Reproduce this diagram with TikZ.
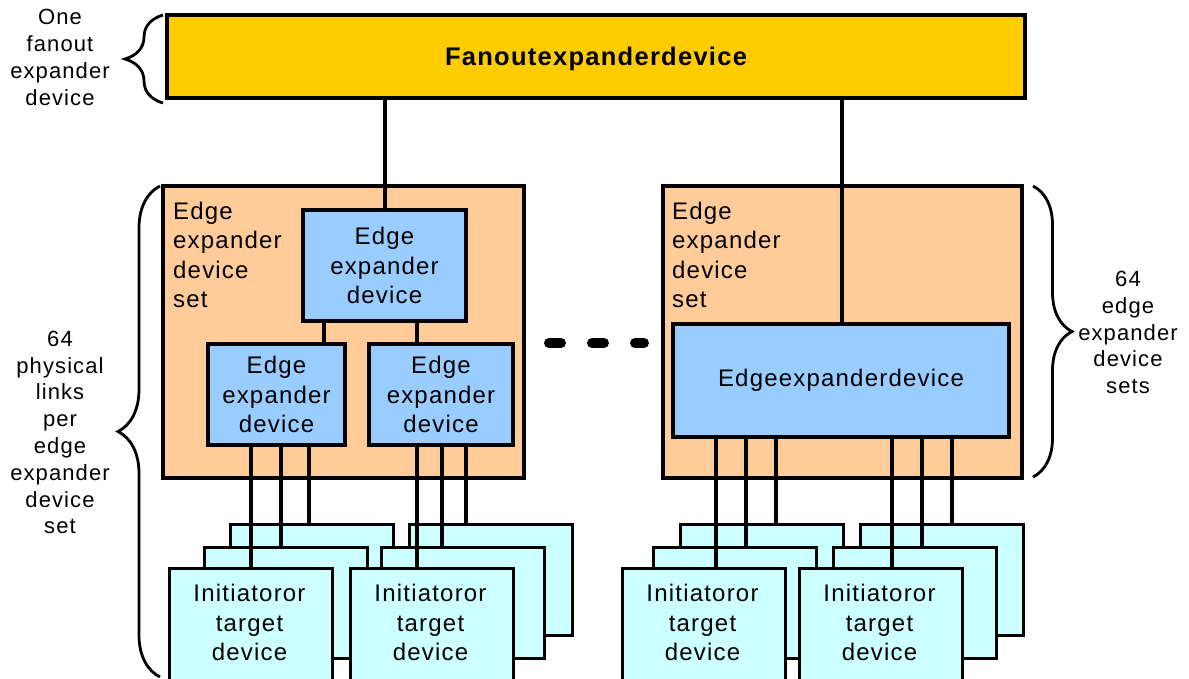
\documentclass[tikz,border=0pt]{standalone}
\usepackage{fontspec}
\setmainfont{Liberation Sans}
\newfontfamily\boxfont{Liberation Sans}[LetterSpace=5]
\newfontfamily\titlefont{Liberation Sans}[LetterSpace=5]
\usetikzlibrary{decorations.pathreplacing}

\definecolor{fanfill}{HTML}{FFCC00}
\definecolor{setfill}{HTML}{FFCC99}
\definecolor{devfill}{HTML}{99CCFF}
\definecolor{initfill}{HTML}{CCFFFF}

\tikzset{
  outline/.style={draw=black, line width=3.2pt, rectangle, inner sep=0pt},
  fanbox/.style={outline, fill=fanfill},
  fanlbl/.style={inner sep=0pt, font=\titlefont\bfseries\fontsize{25.5}{30}\selectfont},
  setbox/.style={outline, fill=setfill},
  devbox/.style={outline, fill=devfill, align=center, font=\boxfont\fontsize{24}{29.5}\selectfont},
  initbox/.style={outline, fill=initfill, minimum width=163pt, minimum height=111pt},
  setlbl/.style={inner sep=0pt, align=left, font=\boxfont\fontsize{24}{29.3}\selectfont},
  initlbl/.style={inner sep=0pt, align=center, font=\boxfont\fontsize{24}{29.5}\selectfont},
  sidelbl/.style={inner sep=0pt, align=center, font=\boxfont\fontsize{22}{26.8}\selectfont},
  link/.style={draw=black, line width=3.2pt},
  ellipsisdash/.style={line width=10pt, line cap=round},
  bracemark/.style={line width=2.8pt, decorate, decoration={brace, amplitude=#1}}
}

\begin{document}
\begin{tikzpicture}[x=1pt, y=-1pt]
\useasboundingbox (0,0) rectangle (1189,678);
\fill[white] (0,0) rectangle (1189,678);

% top level fanout expander
\node[fanbox, minimum width=858pt, minimum height=83pt] (fan) at (596,56.5) {};
\node[fanlbl, anchor=base] (fant) at (596,65) {Fanoutexpanderdevice};

% the two edge expander device sets
\node[setbox, minimum width=361pt, minimum height=292pt] (setL) at (343.5,332) {};
\node[setbox, minimum width=359pt, minimum height=292pt] (setR) at (842.5,332) {};
\node[setlbl, anchor=north west] (setLt) at (173,202) {Edge\\expander\\device\\set};
\node[setlbl, anchor=north west] (setRt) at (672,202) {Edge\\expander\\device\\set};

% edge expander devices
\node[devbox, minimum width=163pt, minimum height=111pt] (et) at (384.5,265.5) {Edge\\expander\\device};
\node[devbox, minimum width=137pt, minimum height=101pt] (dl1) at (276.5,394.5) {Edge\\expander\\device};
\node[devbox, minimum width=144pt, minimum height=101pt] (dl2) at (441,394.5) {Edge\\expander\\device};
\node[devbox, minimum width=336pt, minimum height=113pt] (er) at (841,380.5) {Edgeexpanderdevice};

% stacks of initiator or target devices (back, middle, front)
\foreach \n/\fx/\mx/\bx in {1/168/203/229, 2/349/380/408, 3/621/652/679, 4/798/832/859} {
  \node[initbox, anchor=north west] (b\n) at (\bx,523) {};
  \node[initbox, anchor=north west] (m\n) at (\mx,546) {};
  \node[initbox, anchor=north west, minimum height=130pt] (f\n) at (\fx,567) {};
  \node[initlbl] (t\n) at (\fx+81.5,622.5) {Initiatoror\\target\\device};
}

% links from the fanout expander down to the sets
\coordinate (ca) at (385,0);
\coordinate (cb) at (842,0);
\draw[link] (ca |- fan.south) -- (ca |- et.north);
\draw[link] (cb |- fan.south) -- (cb |- er.north);

% links inside the left set
\coordinate (cc) at (324,0);
\coordinate (cd) at (417,0);
\draw[link] (cc |- et.south) -- (cc |- dl1.north);
\draw[link] (cd |- et.south) -- (cd |- dl2.north);

% physical links to the end devices
\foreach \x/\src/\dst in {251/dl1/f1, 281/dl1/m1, 309/dl1/b1,
                          417/dl2/f2, 442/dl2/m2, 466/dl2/b2,
                          716/er/f3, 746/er/m3, 776/er/b3,
                          892/er/f4, 922/er/m4, 952/er/b4} {
  \coordinate (x\x) at (\x,0);
  \draw[link] (x\x |- \src.south) -- (x\x |- \dst.north);
}

% ellipsis between the sets
\draw[ellipsisdash] (549,343) -- (561,343);
\draw[ellipsisdash] (592,343) -- (604,343);
\draw[ellipsisdash] (635,343) -- (644,343);

% braces and their captions
\draw[bracemark=38pt] (163,103) -- (163,15);
\draw[bracemark=42pt] (160,677) -- (160,186);
\draw[bracemark=39pt] (1033,186) -- (1033,477);

\node[sidelbl] (lblFan) at (60,57.5) {One\\fanout\\expander\\device};
\node[sidelbl] (lblLinks) at (60,432.5) {64\\physical\\links\\per\\edge\\expander\\device\\set};
\node[sidelbl] (lblSets) at (1128,332.5) {64\\edge\\expander\\device\\sets};
\end{tikzpicture}
\end{document}
